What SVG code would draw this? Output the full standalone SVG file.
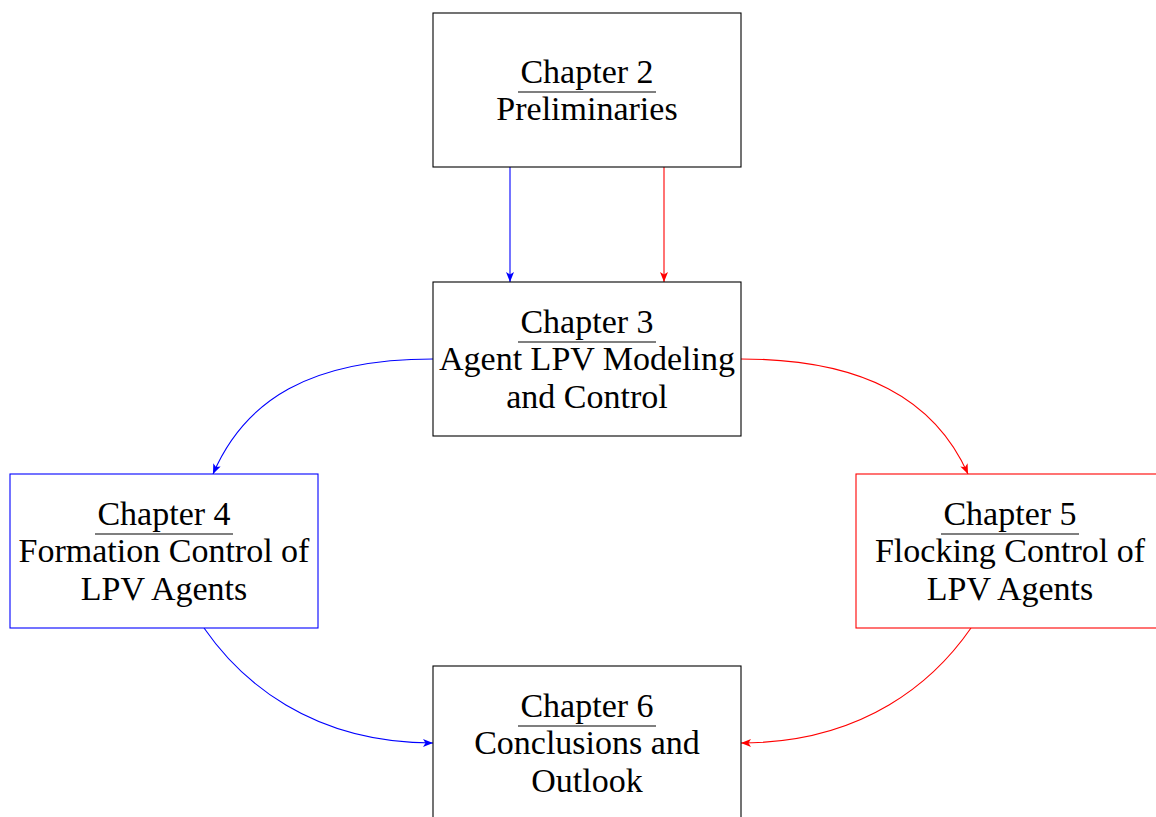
<svg xmlns="http://www.w3.org/2000/svg" width="1156" height="817" viewBox="0 0 1156 817">
<style>
.box{fill:#fff;stroke-width:1.1}
.k{stroke:#000}
.b{stroke:#00f}
.r{stroke:#f00}
text{font-family:'Liberation Serif','DejaVu Serif',serif;font-size:34px;fill:#000;text-anchor:middle}
.ul{stroke:#000;stroke-width:1.1}
.cb{fill:none;stroke:#00f;stroke-width:1.1}
.cr{fill:none;stroke:#f00;stroke-width:1.1}
</style>
<defs>
<marker id="ab" viewBox="0 0 10 8" refX="10" refY="4" markerWidth="10" markerHeight="8" markerUnits="userSpaceOnUse" orient="auto"><path d="M0,0 L10,4 L0,8 L2.5,4 Z" fill="#00f"/></marker>
<marker id="ar" viewBox="0 0 10 8" refX="10" refY="4" markerWidth="10" markerHeight="8" markerUnits="userSpaceOnUse" orient="auto"><path d="M0,0 L10,4 L0,8 L2.5,4 Z" fill="#f00"/></marker>
</defs>
<rect width="1156" height="817" fill="#fff"/>
<g id="connectors">
<path class="cb" d="M510,167 L510,282" marker-end="url(#ab)"/>
<path class="cr" d="M664,167 L664,282" marker-end="url(#ar)"/>
<path class="cb" d="M433,359 C310,359 245,400 213,474" marker-end="url(#ab)"/>
<path class="cr" d="M741,359 C864,359 935,400 968,474" marker-end="url(#ar)"/>
<path class="cb" d="M204,628 C240,680 310,743 433,743" marker-end="url(#ab)"/>
<path class="cr" d="M971,628 C935,680 865,743 741,743" marker-end="url(#ar)"/>
</g>
<g font-family="Liberation Serif, DejaVu Serif, serif">
<g id="ch2">
<rect class="box k" x="433" y="13" width="308" height="154"/>
<text x="587" y="83">Chapter 2</text>
<line class="ul" x1="518" y1="92" x2="656" y2="92"/>
<text x="587" y="120">Preliminaries</text>
</g>
<g id="ch3">
<rect class="box k" x="433" y="282" width="308" height="154"/>
<text x="587" y="333">Chapter 3</text>
<line class="ul" x1="518" y1="342" x2="656" y2="342"/>
<text x="587" y="370">Agent LPV Modeling</text>
<text x="587" y="408">and Control</text>
</g>
<g id="ch4">
<rect class="box b" x="10" y="474" width="308" height="154"/>
<text x="164" y="525">Chapter 4</text>
<line class="ul" x1="95" y1="534" x2="233" y2="534"/>
<text x="164" y="562">Formation Control of</text>
<text x="164" y="600">LPV Agents</text>
</g>
<g id="ch5">
<rect class="box r" x="856" y="474" width="308" height="154"/>
<text x="1010" y="525">Chapter 5</text>
<line class="ul" x1="941" y1="534" x2="1079" y2="534"/>
<text x="1010" y="562">Flocking Control of</text>
<text x="1010" y="600">LPV Agents</text>
</g>
<g id="ch6">
<rect class="box k" x="433" y="666" width="308" height="154"/>
<text x="587" y="717">Chapter 6</text>
<line class="ul" x1="518" y1="726" x2="656" y2="726"/>
<text x="587" y="754">Conclusions and</text>
<text x="587" y="792">Outlook</text>
</g>
</g>
</svg>
